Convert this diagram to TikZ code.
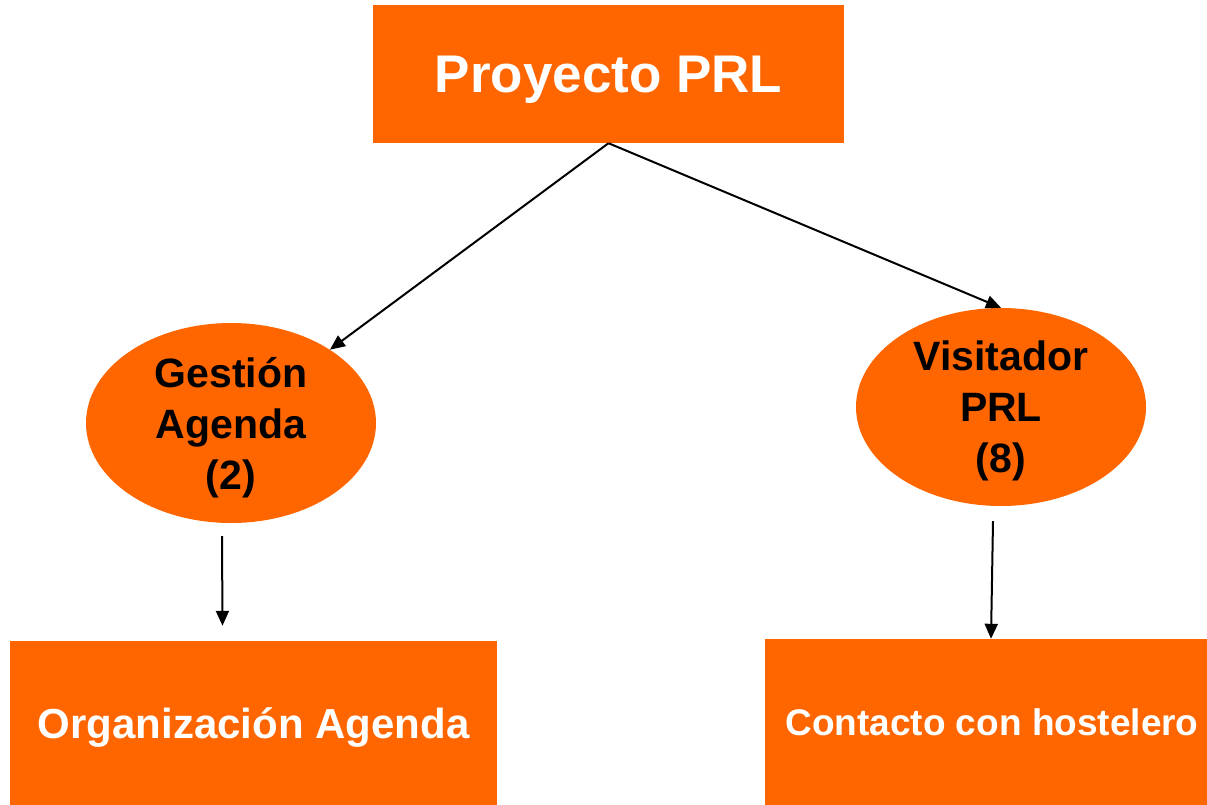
\documentclass[tikz,border=0pt]{standalone}
\usepackage{fontspec}
\setmainfont{Liberation Sans}
\usepackage{tikz}
\usetikzlibrary{arrows.meta,shapes,positioning}
\definecolor{prlorange}{RGB}{255,102,0}

\begin{document}
\begin{tikzpicture}[
    x=1pt, y=-1pt, % one unit per pixel, y pointing down
    box/.style={rectangle, fill=prlorange, text=white, inner sep=0pt, text depth=0pt}, % orange boxes, white text
    oval/.style={ellipse, fill=prlorange, text=black, inner sep=0pt, minimum width=290pt, align=center,
                 text depth=0pt, font=\bfseries\fontsize{41}{51}\selectfont}, % orange ellipses, black text
    link/.style={-{Triangle[length=15pt,width=13pt]}, line width=2pt} % arrows
]
    \useasboundingbox (0,0) rectangle (1207,805);
    \clip (0,0) rectangle (1207,805);

    % Boxes and ellipses
    \node[box, minimum width=471pt, minimum height=138pt, font=\bfseries\fontsize{53}{60}\selectfont]
        (proj) at (608.5,74) {Proyecto PRL};
    \node[oval, minimum height=200pt] (gest) at (231,423) {Gestión\\Agenda\\(2)};
    \node[oval, minimum height=198pt] (visit) at (1001,407) {Visitador\\PRL\\(8)};
    \node[box, minimum width=487pt, minimum height=164pt, font=\bfseries\fontsize{42}{50}\selectfont]
        (org) at (253.5,723) {Organización Agenda};
    \node[box, minimum width=454pt, minimum height=166pt, font=\bfseries\fontsize{37}{44}\selectfont]
        (cont) at (992,722) {Contacto con hostelero}; % runs past the right edge

    % Arrows
    \draw[link] (proj.south) -- (gest);
    \draw[link] (proj.south) -- (visit.north);
    \draw[link] ([xshift=-9pt,yshift=-13pt]gest.south) -- ([xshift=-31pt,yshift=15pt]org.north);
    \draw[link] ([xshift=-8pt,yshift=-15pt]visit.south) -- ([xshift=-1pt]cont.north);
\end{tikzpicture}
\end{document}
